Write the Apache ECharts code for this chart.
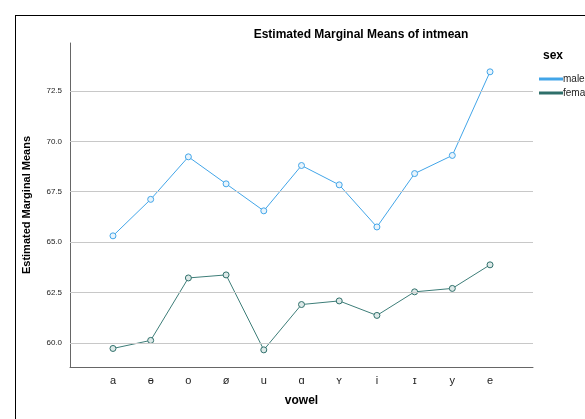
<!DOCTYPE html>
<html><head><meta charset="utf-8">
<script src="https://cdn.jsdelivr.net/npm/echarts@6/dist/echarts.min.js"></script>
<style>html,body{margin:0;background:#fff}#c{width:585px;height:419px}</style>
</head><body><div id="c"></div>
<script>
var vowels = ['a','ɵ','o','ø','u','ɑ','ʏ','i','ɪ','y','e'];
var male = [65.31,67.12,69.23,67.89,66.55,68.8,67.84,65.75,68.4,69.3,73.45];
var female = [59.72,60.12,63.22,63.37,59.65,61.9,62.08,61.36,62.53,62.7,63.87];
var yTicks = [60,62.5,65,67.5,70,72.5];

function pts(a){ var r=[]; for(var i=0;i<a.length;i++) r.push([i,a[i]]); return r; }
var font = 'Liberation Sans, Arial, sans-serif';
var chart = echarts.init(document.getElementById('c'));
chart.setOption({
  animation:false,
  title:{text:'Estimated Marginal Means of intmean',left:356,top:24,textAlign:'center',
    textStyle:{fontSize:12,fontWeight:'bold',color:'#000',fontFamily:font}},
  legend:{orient:'vertical',left:534,top:69,itemWidth:22,itemHeight:10,itemGap:4,icon:'path://M0,4.5L22,4.5L22,5.5L0,5.5Z',
    textStyle:{fontSize:10,color:'#222',fontFamily:font,padding:[0,0,0,-4]},data:['male','female']},
  graphic:[
    {type:'line',shape:{x1:15.5,y1:15,x2:15.5,y2:419},style:{stroke:'#000',lineWidth:1}},
    {type:'line',shape:{x1:15,y1:15.5,x2:585,y2:15.5},style:{stroke:'#000',lineWidth:1}},
    {type:'text',left:543,top:50,style:{text:'sex',font:'bold 12px '+font,fill:'#000'}}
  ],
  grid:{left:70,top:43,width:463,height:324},
  xAxis:{type:'value',min:-1.14,max:11.14,interval:1,name:'vowel',nameLocation:'middle',nameGap:28,
    nameTextStyle:{fontSize:12,fontWeight:'bold',color:'#000',fontFamily:font},
    axisLine:{show:true,onZero:false,lineStyle:{color:'#666'}},axisTick:{show:false},splitLine:{show:false},
    axisLabel:{customValues:[0,1,2,3,4,5,6,7,8,9,10],fontSize:11,color:'#222',margin:8,
      formatter:function(v){return vowels[Math.round(v)];}}},
  yAxis:{type:'value',min:58.8,max:74.88,name:'Estimated Marginal Means',nameLocation:'middle',nameGap:38,
    nameTextStyle:{fontSize:11,fontWeight:'bold',color:'#000',fontFamily:font},
    axisLine:{show:true,onZero:false,lineStyle:{color:'#666'}},splitLine:{show:false},
    axisTick:{show:false},
    axisLabel:{customValues:yTicks,fontSize:8,color:'#222',fontFamily:font,
      formatter:function(v){return v.toFixed(1);}}},
  series:[
    {name:'male',type:'line',data:pts(male),symbol:'circle',symbolSize:6,
      itemStyle:{color:'#e8f4fc',borderColor:'#42a5e8',borderWidth:1},lineStyle:{color:'#42a5e8',width:1},
      markLine:{silent:true,symbol:'none',label:{show:false},lineStyle:{color:'#c8c8c8',type:'solid',width:1},
        data:yTicks.map(function(t){return {yAxis:t};})}},
    {name:'female',type:'line',data:pts(female),symbol:'circle',symbolSize:6,
      itemStyle:{color:'#dde9e8',borderColor:'#2f6f6a',borderWidth:1},lineStyle:{color:'#3d7d78',width:1}}
  ]
});
</script></body></html>
